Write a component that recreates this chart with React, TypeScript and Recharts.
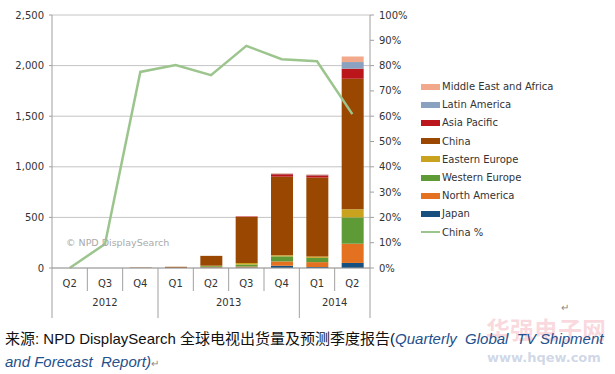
import { Bar, ComposedChart, CartesianGrid, Line, XAxis, YAxis } from "recharts";

// quarterly TV shipments by region (thousands) + China share of total
const quarters = ["Q2", "Q3", "Q4", "Q1", "Q2", "Q3", "Q4", "Q1", "Q2"];
const years = ["2012", "2012", "2012", "2013", "2013", "2013", "2013", "2014", "2014"];

const japan = [0, 0, 0, 0, 5, 5, 22, 10, 50];
const northAmerica = [0, 0, 0, 0, 5, 10, 43, 48, 190];
const westernEurope = [0, 0, 0, 0, 8, 20, 50, 42, 260];
const easternEurope = [0, 0, 0, 1, 5, 15, 10, 14, 80];
const china = [0, 0, 4, 11, 97, 455, 777, 780, 1290];
const asiaPacific = [0, 0, 0, 0, 0, 3, 25, 22, 100];
const latinAmerica = [0, 0, 0, 0, 0, 0, 5, 5, 65];
const middleEastAfrica = [0, 0, 0, 0, 0, 0, 5, 5, 55];
const chinaShare = [0, 9.5, 77.5, 80.2, 76.2, 87.8, 82.5, 81.7, 60.8];

const leftTicks = [0, 500, 1000, 1500, 2000, 2500];
const rightTicks = [0, 10, 20, 30, 40, 50, 60, 70, 80, 90, 100];

// stacking order bottom -> top
const series = [
  { key: "japan", name: "Japan", values: japan, color: "#17507f" },
  { key: "northAmerica", name: "North America", values: northAmerica, color: "#e4711f" },
  { key: "westernEurope", name: "Western Europe", values: westernEurope, color: "#5e9a36" },
  { key: "easternEurope", name: "Eastern Europe", values: easternEurope, color: "#c9a31d" },
  { key: "china", name: "China", values: china, color: "#9a4702" },
  { key: "asiaPacific", name: "Asia Pacific", values: asiaPacific, color: "#bb161b" },
  { key: "latinAmerica", name: "Latin America", values: latinAmerica, color: "#8aa2c0" },
  { key: "middleEastAfrica", name: "Middle East and Africa", values: middleEastAfrica, color: "#f2a98b" },
];
const lineColor = "#9cc58e";

const data = quarters.map((q, i) => {
  const row: Record<string, string | number> = { q, year: years[i], share: chinaShare[i] };
  series.forEach((s) => (row[s.key] = s.values[i]));
  return row;
});

const font = "'DejaVu Sans', Verdana, sans-serif";
const axisGray = "#a0a0a0";
const textColor = "#333";

function QuarterTick(props: any) {
  const { x, y, index, width, visibleTicksCount } = props;
  const band = width / visibleTicksCount;
  const left = x - band / 2;
  const right = x + band / 2;
  const yr = years[index];
  const groupStart = index === 0 || years[index - 1] !== yr;
  const groupEnd = index === years.length - 1 || years[index + 1] !== yr;
  const groupLen = years.filter((v) => v === yr).length;
  return (
    <g>
      <text x={x} y={y + 19} textAnchor="middle" fontSize={10} fill={textColor} fontFamily={font}>
        {quarters[index]}
      </text>
      {index === 0 && <line x1={left} x2={left} y1={y} y2={y + 50} stroke={axisGray} />}
      <line x1={right} x2={right} y1={y} y2={groupEnd ? y + 50 : y + 23} stroke={axisGray} />
      {groupStart && (
        <text
          x={left + (groupLen * band) / 2}
          y={y + 38}
          textAnchor="middle"
          fontSize={10}
          fill={textColor}
          fontFamily={font}
        >
          {yr}
        </text>
      )}
    </g>
  );
}

export default function App() {
  return (
    <div
      style={{
        position: "absolute",
        left: 0,
        top: 0,
        width: 615,
        height: 374,
        background: "#fff",
        overflow: "hidden",
      }}
    >
      <ComposedChart
        width={615}
        height={330}
        data={data}
        margin={{ top: 15, right: 205, bottom: 12, left: 5 }}
      >
        <CartesianGrid yAxisId="left" vertical={false} stroke="#c4c4c4" />
        <XAxis
          dataKey="q"
          height={50}
          axisLine={{ stroke: axisGray }}
          tickLine={false}
          tickSize={0}
          tickMargin={0}
          tick={<QuarterTick />}
          interval={0}
        />
        <YAxis
          yAxisId="left"
          width={47}
          domain={[0, 2500]}
          ticks={leftTicks}
          tickFormatter={(v: number) => v.toLocaleString("en-US")}
          axisLine={{ stroke: axisGray }}
          tickLine={{ stroke: axisGray }}
          tickSize={3}
          tickMargin={5}
          tick={{ fill: textColor, fontSize: 10, fontFamily: font }}
        />
        <YAxis
          yAxisId="right"
          orientation="right"
          width={40}
          domain={[0, 100]}
          ticks={rightTicks}
          tickFormatter={(v: number) => `${v}%`}
          axisLine={{ stroke: axisGray }}
          tickLine={{ stroke: axisGray }}
          tickSize={4}
          tickMargin={5}
          tick={{ fill: textColor, fontSize: 10, fontFamily: font }}
        />
        {series.map((s) => (
          <Bar
            key={s.key}
            yAxisId="left"
            dataKey={s.key}
            name={s.name}
            stackId="tv"
            fill={s.color}
            barSize={22}
            isAnimationActive={false}
          />
        ))}
        <Line
          yAxisId="right"
          dataKey="share"
          name="China %"
          stroke={lineColor}
          strokeWidth={2.5}
          dot={false}
          type="linear"
          isAnimationActive={false}
        />
      </ComposedChart>

      <div
        style={{
          position: "absolute",
          left: 66,
          top: 237,
          fontFamily: font,
          fontSize: 9.5,
          color: "#aaa",
          whiteSpace: "nowrap",
        }}
      >
        © NPD DisplaySearch
      </div>

      <div style={{ position: "absolute", left: 421, top: 77.5, fontFamily: font, fontSize: 10, color: textColor }}>
        {[...series].reverse().map((s) => (
          <div key={s.key} style={{ display: "flex", alignItems: "center", height: 18.2 }}>
            <span style={{ display: "inline-block", width: 19, height: 6, background: s.color, marginRight: 2 }} />
            <span style={{ whiteSpace: "nowrap" }}>{s.name}</span>
          </div>
        ))}
        <div style={{ display: "flex", alignItems: "center", height: 18.2 }}>
          <span style={{ display: "inline-block", width: 19, height: 2, background: lineColor, marginRight: 2 }} />
          <span>China %</span>
        </div>
      </div>

      {/* site watermark, faint, sits behind the caption like in the source */}
      <div
        style={{
          position: "absolute",
          left: 486,
          top: 316,
          fontFamily: "'Noto Sans CJK SC', sans-serif",
          fontWeight: 700,
          fontSize: 24,
          lineHeight: "26px",
          color: "rgba(235,120,140,0.28)",
          whiteSpace: "nowrap",
        }}
      >
        华强电子网
      </div>
      <div
        style={{
          position: "absolute",
          left: 487,
          top: 350,
          fontFamily: "'DejaVu Sans', sans-serif",
          fontWeight: 700,
          fontSize: 13,
          lineHeight: "16px",
          color: "rgba(120,140,185,0.35)",
          whiteSpace: "nowrap",
        }}
      >
        www.hqew.com
      </div>
      <div style={{ position: "absolute", left: 561, top: 302, fontSize: 10, lineHeight: "12px", color: "#888" }}>↵</div>

      <div
        style={{
          position: "absolute",
          left: 5,
          top: 327,
          fontFamily: "'Liberation Sans', 'Noto Sans CJK SC', sans-serif",
          fontSize: 15,
          lineHeight: "23px",
          color: "#111",
          whiteSpace: "nowrap",
        }}
      >
        <div>
          来源: NPD DisplaySearch 全球电视出货量及预测季度报告(
          <span style={{ fontStyle: "italic", color: "#24508c" }}>Quarterly&nbsp; Global&nbsp; TV Shipment</span>
        </div>
        <div>
          <span style={{ fontStyle: "italic", color: "#24508c" }}>and Forecast&nbsp; Report)</span>
          <span style={{ fontSize: 10, color: "#888" }}>↵</span>
        </div>
      </div>
    </div>
  );
}
